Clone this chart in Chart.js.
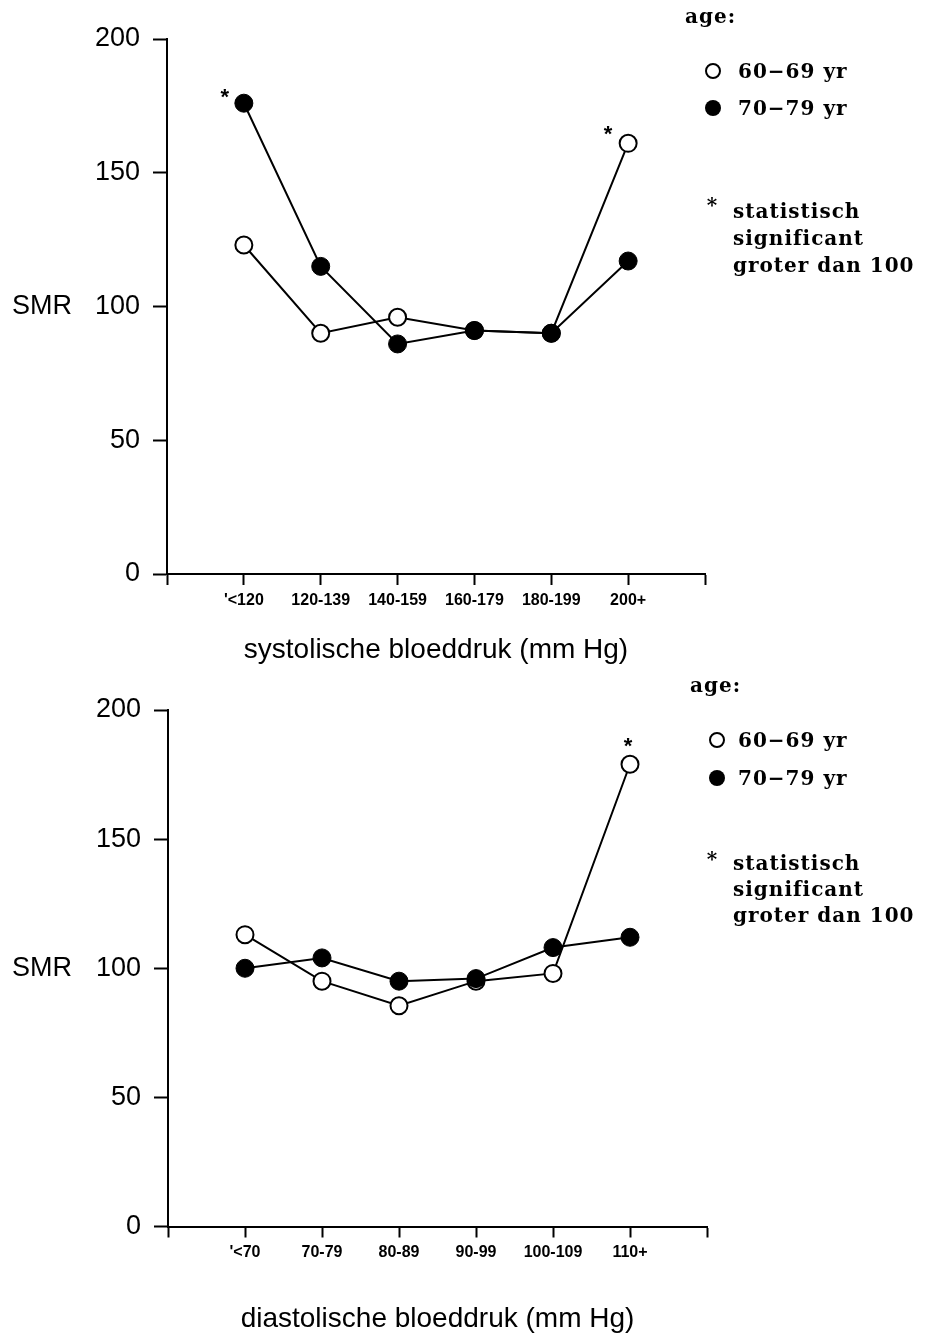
<!DOCTYPE html>
<html><head><meta charset="utf-8">
<script src="https://cdn.jsdelivr.net/npm/chart.js@4.4.1/dist/chart.umd.min.js"></script>
<style>
html,body{margin:0;padding:0;background:#fff;width:931px;height:1336px;overflow:hidden;}
canvas{display:block;position:absolute;left:0;}
</style></head><body>
<canvas id="cTop" width="931" height="668" style="top:0px"></canvas>
<canvas id="cBottom" width="931" height="668" style="top:668px"></canvas>
<script>
// ---------- data ----------
const systolicCategories = ["'<120", "120-139", "140-159", "160-179", "180-199", "200+"];
const diastolicCategories = ["'<70", "70-79", "80-89", "90-99", "100-109", "110+"];
const seriesNames = ["60\u221269 yr", "70\u221279 yr"];
const systolic6069 = [123, 90, 96, 91, 90, 161];
const systolic7079 = [176, 115, 86, 91, 90, 117];
const diastolic6069 = [113, 95, 85.5, 95, 98, 179];
const diastolic7079 = [100, 104, 95, 96, 108, 112];
const yTickValues = [0, 50, 100, 150, 200];
const systolicSignificant = [{series: 1, index: 0}, {series: 0, index: 5}];
const diastolicSignificant = [{series: 0, index: 5}];
const legendTitle = "age:";
const noteLines = ["statistisch", "significant", "groter dan 100"];
const yLabel = "SMR";
const systolicTitle = "systolische bloeddruk (mm Hg)";
const diastolicTitle = "diastolische bloeddruk (mm Hg)";

// ---------- drawing ----------
const SANS = '"Liberation Sans", Arial, sans-serif';
const SERIF = '"DejaVu Serif", serif';

const annotPlugin = {
  id: 'annot',
  afterDatasetsDraw(chart, args, o) {
    const c = chart.ctx;
    c.save();
    c.fillStyle = '#000';
    // significance asterisks, placed relative to the data points
    c.font = 'bold 22px ' + SANS;
    c.textAlign = 'center';
    c.textBaseline = 'alphabetic';
    o.sig.forEach((s, k) => {
      const dsIndex = s.series === 1 ? 0 : 1;
      const el = chart.getDatasetMeta(dsIndex).data[s.index];
      const off = o.sigOffsets[k];
      c.fillText('*', el.x + off[0], el.y + off[1] + 0.575 * 22);
    });
    // SMR label at level 100
    c.font = '27px ' + SANS;
    c.textAlign = 'left';
    c.textBaseline = 'middle';
    c.fillText(yLabel, o.smrX, chart.scales.y.getPixelForValue(100));
    // legend
    const L = o.legend;
    c.font = 'bold 20px ' + SERIF;
    try { c.letterSpacing = '1px'; } catch (e) {}
    c.textBaseline = 'alphabetic';
    c.fillText(legendTitle, L.ageX, L.ageY);
    c.fillText(seriesNames[0], L.textX, L.row1);
    c.fillText(seriesNames[1], L.textX, L.row2);
    noteLines.forEach((t, i) => c.fillText(t, L.noteX, L.noteY[i]));
    try { c.letterSpacing = '0px'; } catch (e) {}
    c.font = 'bold 20px ' + SERIF;
    c.textAlign = 'center';
    c.fillText('*', L.starX, L.starY);
    // legend markers
    c.lineWidth = 2;
    c.strokeStyle = '#000';
    c.beginPath();
    c.arc(L.markX, L.row1C, 7, 0, Math.PI * 2);
    c.fillStyle = '#fff';
    c.fill();
    c.stroke();
    c.beginPath();
    c.arc(L.markX, L.row2C, 8, 0, Math.PI * 2);
    c.fillStyle = '#000';
    c.fill();
    c.restore();
  }
};

function build(id, cats, openVals, filledVals, sig, g) {
  const toPts = arr => arr.map((v, i) => ({x: i + 1, y: v}));
  return new Chart(document.getElementById(id), {
    type: 'line',
    data: {
      datasets: [
        {label: seriesNames[1], data: toPts(filledVals), borderColor: '#000', backgroundColor: '#000',
         pointBackgroundColor: '#000', pointBorderColor: '#000', pointRadius: 9, pointBorderWidth: 1,
         borderWidth: 2, tension: 0, order: 0},
        {label: seriesNames[0], data: toPts(openVals), borderColor: '#000', backgroundColor: '#fff',
         pointBackgroundColor: '#fff', pointBorderColor: '#000', pointRadius: 8.5, pointBorderWidth: 2,
         borderWidth: 2, tension: 0, order: 1}
      ]
    },
    options: {
      responsive: false, animation: false, devicePixelRatio: 1,
      layout: {padding: {left: 0, right: 931 - g.right, top: g.top, bottom: 0}},
      plugins: {
        legend: {display: false}, tooltip: {enabled: false},
        annot: {sig: sig, sigOffsets: g.sigOffsets, smrX: 12, legend: g.legend}
      },
      scales: {
        x: {
          type: 'linear', min: 0, max: 7,
          afterFit: s => { s.height = 668 - g.bottom; },
          border: {display: true, color: '#000', width: 2},
          grid: {drawOnChartArea: false, drawTicks: true, tickLength: 11, tickWidth: 2, tickColor: '#000'},
          ticks: {stepSize: 1, autoSkip: false, maxRotation: 0, padding: g.xPad, color: '#000',
                  font: {family: SANS, size: 16, weight: 'bold'},
                  callback: v => (cats[v - 1] !== undefined ? cats[v - 1] : '')},
          title: {display: true, text: g.title, color: '#000', font: {family: SANS, size: 28},
                  padding: {top: 0, bottom: g.titlePad}}
        },
        y: {
          min: 0, max: 200,
          afterFit: s => { s.width = g.left; },
          afterBuildTicks: s => { s.ticks = yTickValues.map(v => ({value: v})); },
          border: {display: true, color: '#000', width: 2},
          grid: {drawOnChartArea: false, drawTicks: true, tickLength: 14, tickWidth: 2, tickColor: '#000'},
          ticks: {padding: 13, color: '#000', font: {family: SANS, size: 27}}
        }
      }
    },
    plugins: [annotPlugin]
  });
}

build('cTop', systolicCategories, systolic6069, systolic7079, systolicSignificant, {
  left: 167, right: 705, top: 39, bottom: 574, xPad: 6, title: systolicTitle, titlePad: 1,
  sigOffsets: [[-19, -12], [-20, -15]],
  legend: {ageX: 685, ageY: 23, markX: 713, textX: 738, row1: 78, row2: 115, row1C: 71, row2C: 108,
           starX: 712, starY: 212, noteX: 733, noteY: [218, 245, 272]}
});
build('cBottom', diastolicCategories, diastolic6069, diastolic7079, diastolicSignificant, {
  left: 168, right: 707, top: 42, bottom: 558.5, xPad: 5, title: diastolicTitle, titlePad: 0,
  sigOffsets: [[-2, -24]],
  legend: {ageX: 690, ageY: 24, markX: 717, textX: 738, row1: 79, row2: 117, row1C: 72, row2C: 110,
           starX: 712, starY: 198, noteX: 733, noteY: [202, 228, 254]}
});
</script>
</body></html>
